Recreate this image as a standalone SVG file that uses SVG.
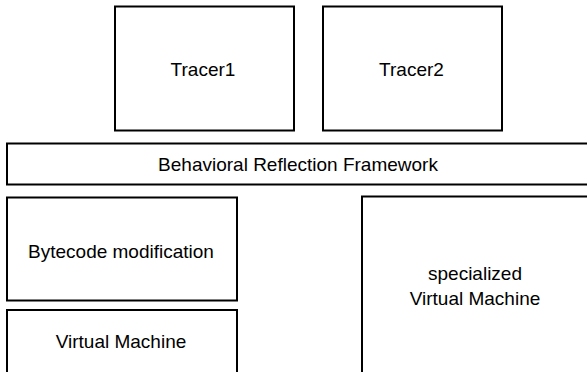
<svg xmlns="http://www.w3.org/2000/svg" width="587" height="372" viewBox="0 0 587 372">
<style>
rect.box{fill:#fff;stroke:#000;stroke-width:2}
text{font-family:"Liberation Sans",Arial,sans-serif;font-size:19px;fill:#000;text-anchor:middle}
</style>
<rect width="587" height="372" fill="#fff"/>
<g id="tracer1"><rect class="box" x="115" y="6.5" width="179" height="124"/><text x="203" y="76">Tracer1</text></g>
<g id="tracer2"><rect class="box" x="323" y="6.5" width="179" height="124"/><text x="411.5" y="76">Tracer2</text></g>
<g id="framework"><rect class="box" x="7" y="143.5" width="590" height="41"/><text x="298" y="171.3">Behavioral Reflection Framework</text></g>
<g id="bytecode"><rect class="box" x="7" y="197.5" width="230" height="103"/><text x="121" y="257.5">Bytecode modification</text></g>
<g id="vm"><rect class="box" x="7" y="310" width="230" height="80"/><text x="121" y="348.3">Virtual Machine</text></g>
<g id="specialized"><rect class="box" x="362" y="196.5" width="240" height="200"/><text x="475" y="280">specialized</text><text x="475" y="305.3">Virtual Machine</text></g>
<g id="connectors"></g>
</svg>
